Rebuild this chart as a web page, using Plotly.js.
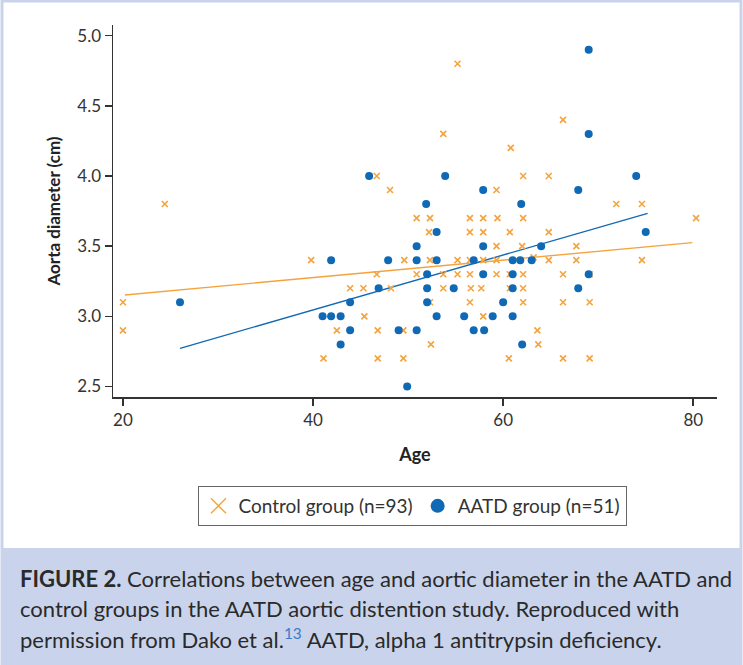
<!DOCTYPE html>
<html>
<head>
<meta charset="utf-8">
<script src="https://cdn.plot.ly/plotly-3.0.1.min.js"></script>
<style>html,body{margin:0;padding:0;background:#fff;}#chart{width:743px;height:665px;}</style>
</head>
<body>
<div id="chart"></div>
<script>
// Control group (orange x)
const controlAge = [20, 20, 24.4, 39.8, 41.1, 55.2, 53.7, 60.8, 46.7, 48.1, 59.3, 50.9, 52.3, 56.5, 57.9, 59.4,
  52.2, 56.5, 57.9, 60.7, 59.3, 49.6, 52.3, 55.2, 56.5, 57.9, 59.3, 46.7, 50.9, 53.7, 55.2, 56.5, 59.3, 60.7,
  43.9, 45.3, 48.2, 53.7, 56.6, 57.7, 60.7, 52.3, 56.5, 45.4, 57.9, 42.5, 46.8, 49.5, 52.4, 46.8, 49.5, 60.6,
  66.3, 62.1, 64.8, 71.9, 74.6, 62.1, 80.3, 64.8, 62.0, 67.7, 63.2, 64.8, 67.7, 74.6, 62.1, 66.3, 69.1, 62.1,
  62.1, 66.3, 69.1, 63.6, 63.7, 66.3, 69.1];
const controlDiam = [3.1, 2.9, 3.8, 3.4, 2.7, 4.8, 4.3, 4.2, 4.0, 3.9, 3.9, 3.7, 3.7, 3.7, 3.7, 3.7,
  3.6, 3.6, 3.6, 3.6, 3.5, 3.4, 3.4, 3.4, 3.4, 3.4, 3.4, 3.3, 3.3, 3.3, 3.3, 3.3, 3.3, 3.3,
  3.2, 3.2, 3.2, 3.2, 3.2, 3.2, 3.2, 3.1, 3.1, 3.0, 3.0, 2.9, 2.9, 2.9, 2.8, 2.7, 2.7, 2.7,
  4.4, 4.0, 4.0, 3.8, 3.8, 3.7, 3.7, 3.6, 3.5, 3.5, 3.42, 3.4, 3.4, 3.4, 3.3, 3.3, 3.3, 3.2,
  3.1, 3.1, 3.1, 2.9, 2.8, 2.7, 2.7];
// AATD group (blue dots)
const aatdAge = [26, 41.0, 41.9, 45.9, 53.9, 57.9, 51.9, 61.9, 53.0, 50.9, 57.9, 47.9, 50.9, 53.0, 56.9, 61.0,
  61.8, 52.0, 57.9, 61.0, 46.9, 52.0, 54.8, 61.0, 67.9, 43.9, 52.0, 60.0, 41.9, 42.9, 53.0, 55.9, 58.9, 61.0,
  43.9, 49.0, 50.9, 56.9, 58.0, 42.9, 62.0, 49.9, 69.0, 69.0, 74.0, 67.9, 75.0, 64.0, 63.0, 69.0];
const aatdDiam = [3.1, 3.0, 3.4, 4.0, 4.0, 3.9, 3.8, 3.8, 3.6, 3.5, 3.5, 3.4, 3.4, 3.4, 3.4, 3.4,
  3.4, 3.3, 3.3, 3.3, 3.2, 3.2, 3.2, 3.2, 3.2, 3.1, 3.1, 3.1, 3.0, 3.0, 3.0, 3.0, 3.0, 3.0,
  2.9, 2.9, 2.9, 2.9, 2.9, 2.8, 2.8, 2.5, 4.9, 4.3, 4.0, 3.9, 3.6, 3.5, 3.4, 3.3];
// Fitted regression lines
const controlFitAge = [20.2, 79.9];
const controlFitDiam = [3.152, 3.525];
const aatdFitAge = [26, 75.2];
const aatdFitDiam = [2.772, 3.734];
const legendNames = ['Control group (n=93)', 'AATD group (n=51)'];
const xTicks = [20, 40, 60, 80];
const yTicks = [2.5, 3.0, 3.5, 4.0, 4.5, 5.0];

const ORANGE = '#F5A33C';
const BLUE = '#0F69B4';
const FONT = 'Lato, "Open Sans", sans-serif';

const traces = [
  {x: controlFitAge, y: controlFitDiam, mode: 'lines', line: {color: ORANGE, width: 1.4}, showlegend: false, hoverinfo: 'skip'},
  {x: aatdFitAge, y: aatdFitDiam, mode: 'lines', line: {color: BLUE, width: 1.4}, showlegend: false, hoverinfo: 'skip'},
  {x: controlAge, y: controlDiam, mode: 'markers', type: 'scatter',
   marker: {symbol: 'x-thin-open', size: 6, color: ORANGE, line: {color: ORANGE, width: 1.6}}, showlegend: false},
  {x: aatdAge, y: aatdDiam, mode: 'markers', type: 'scatter',
   marker: {symbol: 'circle', size: 8, color: BLUE, line: {width: 0}}, showlegend: false},
  {x: [null], y: [null], mode: 'markers', name: legendNames[0],
   marker: {symbol: 'x-thin-open', size: 15, color: ORANGE, line: {color: ORANGE, width: 1.4}}},
  {x: [null], y: [null], mode: 'markers', name: legendNames[1],
   marker: {symbol: 'circle', size: 14, color: BLUE}}
];

// pixel -> paper helpers (plot area: x 113..717, y 25..397)
const L = 113, R = 26, T = 25, B = 268;
const PW = 743 - L - R, PH = 665 - T - B;
const px = v => (v - L) / PW;
const py = v => (665 - B - v) / PH;
const CAP = 22;

const layout = {
  width: 743, height: 665,
  margin: {l: L, r: R, t: T, b: B},
  paper_bgcolor: '#ffffff', plot_bgcolor: '#ffffff',
  font: {family: FONT, color: '#333333', size: 17},
  xaxis: {
    range: [18.95, 82.5], tickvals: xTicks, ticktext: xTicks.map(String),
    showgrid: false, zeroline: false, showline: true, linecolor: '#333', linewidth: 1.5,
    ticks: 'outside', ticklen: 7, tickwidth: 1.5, tickcolor: '#333',
    tickfont: {size: 17, family: FONT, color: '#333'},
    title: {text: '<b>Age</b>', font: {size: 18, family: FONT, color: '#222'}, standoff: 19}
  },
  yaxis: {
    range: [2.425, 5.076], tickvals: yTicks, ticktext: yTicks.map(v => v.toFixed(1)),
    showgrid: false, zeroline: false, showline: true, linecolor: '#333', linewidth: 1.5,
    ticks: 'outside', ticklen: 7, tickwidth: 1.5, tickcolor: '#333',
    tickfont: {size: 17, family: FONT, color: '#333'},
    title: {text: '<b>Aorta diameter (cm)</b>', font: {size: 17, family: FONT, color: '#222'}, standoff: 12}
  },
  showlegend: true,
  legend: {
    orientation: 'h', x: px(412), xanchor: 'center', y: py(486), yanchor: 'top',
    bordercolor: '#666', borderwidth: 1, bgcolor: '#fff',
    font: {size: 19, family: FONT, color: '#333'}, itemwidth: 30
  },
  shapes: [
    {type: 'rect', xref: 'paper', yref: 'paper', x0: px(2), x1: px(741), y0: py(548), y1: py(665),
     fillcolor: '#C9D4EC', line: {width: 0}, layer: 'below'},
    {type: 'rect', xref: 'paper', yref: 'paper', x0: px(2), x1: px(741), y0: py(665), y1: py(1),
     fillcolor: 'rgba(0,0,0,0)', line: {color: '#C9D4EC', width: 3}, layer: 'below'}
  ],
  annotations: [
    {xref: 'paper', yref: 'paper', x: px(18), y: py(578), xanchor: 'left', yanchor: 'middle', showarrow: false,
     align: 'left', font: {size: CAP, family: FONT, color: '#2a2a2a'},
     text: '<b>FIGURE 2.</b> Correlations between age and aortic diameter in the AATD and'},
    {xref: 'paper', yref: 'paper', x: px(18), y: py(608), xanchor: 'left', yanchor: 'middle', showarrow: false,
     align: 'left', font: {size: CAP, family: FONT, color: '#2a2a2a'},
     text: 'control groups in the AATD aortic distention study. Reproduced with'},
    {xref: 'paper', yref: 'paper', x: px(18), y: py(638), xanchor: 'left', yanchor: 'middle', showarrow: false,
     align: 'left', font: {size: CAP, family: FONT, color: '#2a2a2a'},
     text: 'permission from Dako et al.<sup><span style="color:#3d7cc9">13</span></sup> AATD, alpha 1 antitrypsin deficiency.'}
  ]
};

Plotly.newPlot('chart', traces, layout, {displayModeBar: false, staticPlot: true});
</script>
</body>
</html>
